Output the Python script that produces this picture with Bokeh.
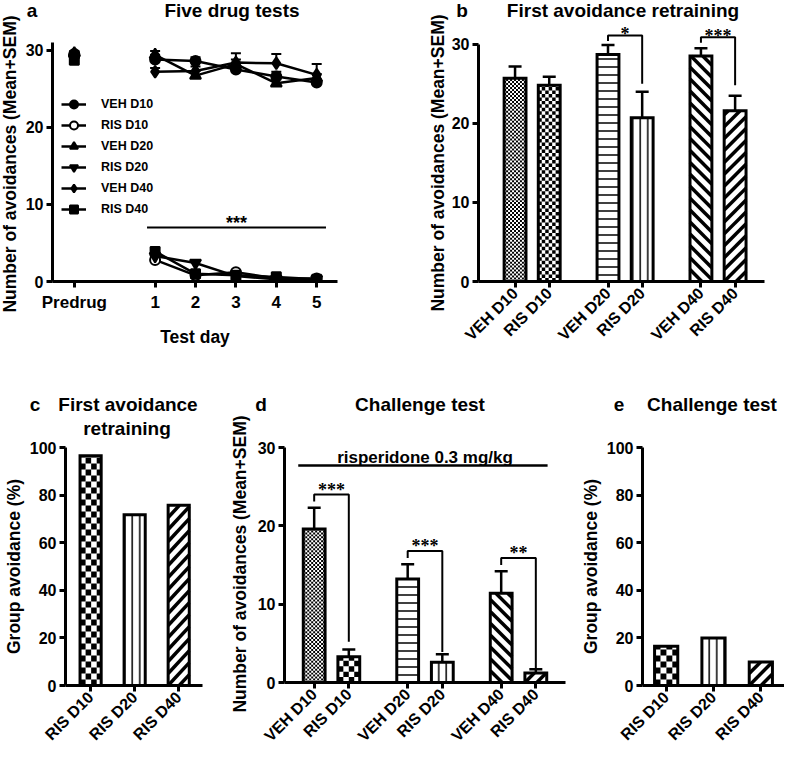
import math
from bokeh.plotting import figure
from bokeh.models import (Range1d, FixedTicker, ColumnDataSource, Whisker, TeeHead,
                          Label, LabelSet, Legend, LegendItem, Div)
from bokeh.layouts import row, column
from bokeh.embed import file_html
from bokeh.resources import INLINE

FONT = "Liberation Sans"

# ---------------- data ----------------
# panel a: five drug tests (Predrug + test days 1-5)
day_labels = ["Predrug", "1", "2", "3", "4", "5"]
series_names = ["VEH D10", "RIS D10", "VEH D20", "RIS D20", "VEH D40", "RIS D40"]
veh_d10 = [29.5, 28.8, 28.6, 27.5, 26.6, 25.8]
veh_d10_sem = [0.3, 0.6, 0.5, 0.5, 0.6, 0.4]
ris_d10 = [29.3, 2.8, 0.8, 1.2, 0.4, 0.4]
ris_d10_sem = [0.3, 0.4, 0.3, 0.2, 0.2, 0.2]
veh_d20 = [29.6, 29.4, 26.7, 28.2, 25.7, 26.4]
veh_d20_sem = [0.3, 0.5, 0.6, 0.6, 0.5, 0.5]
ris_d20 = [29.0, 3.3, 2.4, 0.7, 0.3, 0.3]
ris_d20_sem = [0.3, 0.5, 0.4, 0.3, 0.2, 0.2]
veh_d40 = [29.2, 27.2, 27.3, 28.4, 28.3, 26.8]
veh_d40_sem = [0.3, 0.5, 0.6, 1.2, 1.2, 1.4]
ris_d40 = [28.7, 3.9, 1.0, 0.8, 0.6, 0.3]
ris_d40_sem = [0.3, 0.5, 0.4, 0.3, 0.3, 0.2]
a_sig_label = "***"
a_sig_level = 7.0

# panel b: first avoidance retraining
b_groups = ["VEH D10", "RIS D10", "VEH D20", "RIS D20", "VEH D40", "RIS D40"]
b_mean = [25.7, 24.8, 28.7, 20.7, 28.5, 21.6]
b_sem = [1.5, 1.1, 1.2, 3.3, 1.0, 1.9]
b_brackets = [(2, 3, 31.1, 30.4, 25.0, "*"), (4, 5, 30.9, 30.2, 24.8, "***")]

# panel c: first avoidance retraining, group avoidance (%)
c_groups = ["RIS D10", "RIS D20", "RIS D40"]
c_pct = [96.5, 71.7, 75.7]

# panel d: challenge test
d_groups = ["VEH D10", "RIS D10", "VEH D20", "RIS D20", "VEH D40", "RIS D40"]
d_mean = [19.6, 3.3, 13.2, 2.6, 11.4, 1.2]
d_sem = [2.7, 0.9, 1.9, 1.0, 2.8, 0.5]
d_brackets = [(0, 1, 24.0, 23.1, 5.2, "***"), (2, 3, 16.8, 15.9, 3.9, "***"),
              (4, 5, 15.9, 15.0, 1.8, "**")]
d_drug_label = "risperidone 0.3 mg/kg"
d_drug_level = 27.7

# panel e: challenge test, group avoidance (%)
e_groups = ["RIS D10", "RIS D20", "RIS D40"]
e_pct = [16.5, 20.0, 9.9]

# texts
count_label = "Number of avoidances (Mean+SEM)"
pct_label = "Group avoidance (%)"
title_a = [("a", 10, 11), ("Five drug tests", 210, 11)]
title_b = [("b", 14, 11), ("First avoidance retraining", 175, 11)]
title_c = [("c", 35, 53), ("First avoidance", 128, 53), ("retraining", 127, 77)]
title_d = [("d", 7, 53), ("Challenge test", 166, 53)]
title_e = [("e", 42, 53), ("Challenge test", 135, 53)]


def make_fig(width, height, g, left, right, top, bottom):
    p = figure(width=width, height=height, x_range=Range1d(*g["x"]), y_range=Range1d(*g["y"]),
               output_backend="svg", toolbar_location=None,
               min_border_left=left, min_border_right=right,
               min_border_top=top, min_border_bottom=bottom)
    p.background_fill_color = "white"
    p.border_fill_color = "white"
    p.outline_line_color = None
    p.xgrid.visible = False
    p.ygrid.visible = False
    for ax in p.axis:
        ax.axis_line_width = 3
        ax.axis_line_color = "black"
        ax.major_tick_line_width = 3
        ax.major_tick_line_color = "black"
        ax.major_tick_out = 6
        ax.major_tick_in = 0
        ax.minor_tick_out = 0
        ax.minor_tick_in = 0
        ax.major_label_text_font = FONT
        ax.major_label_text_font_style = "bold"
        ax.major_label_text_font_size = "16px"
        ax.major_label_text_color = "black"
        ax.axis_label_text_font = FONT
        ax.axis_label_text_font_style = "bold"
        ax.axis_label_text_font_size = "17.5px"
        ax.axis_label_text_color = "black"
        ax.major_label_standoff = 3
        ax.axis_label_standoff = 3
    return p


def scales(g):
    sx = (g["R"] - g["L"]) / (g["x"][1] - g["x"][0])
    sy = (g["B"] - g["T"]) / (g["y"][1] - g["y"][0])
    return sx, sy


def checker_quads(xl, xr, top, cell, sx, sy):
    l, r, b, t = [], [], [], []
    wpx, hpx = (xr - xl) * sx, top * sy
    ncol, nrow = int(math.ceil(wpx / cell)), int(math.ceil(hpx / cell))
    for i in range(ncol):
        for j in range(nrow):
            if (i + j) % 2 == 0:
                l.append(xl + i * cell / sx)
                r.append(min(xl + (i + 1) * cell / sx, xr))
                b.append(j * cell / sy)
                t.append(min((j + 1) * cell / sy, top))
    return l, r, b, t


def diag_segments(xl, xr, top, spacing, sx, sy, rising):
    wpx, hpx = (xr - xl) * sx, top * sy
    x0s, y0s, x1s, y1s = [], [], [], []
    kmin = int(math.floor(-(wpx + hpx) / spacing)) - 1
    kmax = int(math.ceil((wpx + hpx) / spacing)) + 1
    for k in range(kmin, kmax + 1):
        c = k * spacing
        if rising:      # y = x + c
            xa, xb = max(0.0, -c), min(wpx, hpx - c)
            if xa >= xb:
                continue
            ya, yb = xa + c, xb + c
        else:           # y = -x + c
            xa, xb = max(0.0, c - hpx), min(wpx, c)
            if xa >= xb:
                continue
            ya, yb = -xa + c, -xb + c
        x0s.append(xl + xa / sx); x1s.append(xl + xb / sx)
        y0s.append(ya / sy); y1s.append(yb / sy)
    return x0s, y0s, x1s, y1s


def bars(p, g, positions, names, values, sems, width, fine_cell, coarse_cell):
    sx, sy = scales(g)
    for xpos, name, v in zip(positions, names, values):
        src = ColumnDataSource(dict(x=[xpos], top=[v]))
        xl, xr = xpos - width / 2, xpos + width / 2
        kw = {}
        if name == "VEH D20":
            kw = dict(hatch_pattern="-", hatch_scale=8, hatch_weight=1.5, hatch_color="black")
        elif name == "RIS D20":
            kw = dict(hatch_pattern="|", hatch_scale=7.5, hatch_weight=1.5, hatch_color="black")
        p.vbar(x="x", top="top", bottom=0, width=width, source=src,
               fill_color="white", line_color=None, **kw)
        if name in ("VEH D10", "RIS D10"):
            cell = fine_cell if name == "VEH D10" else coarse_cell
            l, r, b, t = checker_quads(xl, xr, v, cell, sx, sy)
            p.quad(left=l, right=r, bottom=b, top=t, fill_color="black", line_color=None)
        elif name in ("VEH D40", "RIS D40"):
            x0, y0, x1, y1 = diag_segments(xl, xr, v, 12, sx, sy, rising=(name == "RIS D40"))
            p.segment(x0=x0, y0=y0, x1=x1, y1=y1, line_color="black", line_width=3.5)
        p.vbar(x="x", top="top", bottom=0, width=width, source=src,
               fill_color=None, line_color="black", line_width=3, line_join="miter")
    if sems is not None:
        src = ColumnDataSource(dict(x=positions, lo=values,
                                    hi=[v + s for v, s in zip(values, sems)]))
        p.add_layout(Whisker(source=src, base="x", lower="lo", upper="hi",
                             dimension="height", line_width=2.5, line_color="black",
                             upper_head=TeeHead(size=13, line_width=2.5, line_color="black"),
                             lower_head=None, level="underlay"))


def brackets(p, g, positions, specs, drop_px, size="18px"):
    _, sy = scales(g)
    xs, ys, tx, ty, tt = [], [], [], [], []
    for i, j, top, lft, rgt, lab in specs:
        xs.append([positions[i], positions[i], positions[j], positions[j]])
        ys.append([lft, top, top, rgt])
        tx.append((positions[i] + positions[j]) / 2)
        ty.append(top - drop_px / sy)
        tt.append(lab)
    p.multi_line(xs=xs, ys=ys, line_color="black", line_width=2)
    src = ColumnDataSource(dict(x=tx, y=ty, t=tt))
    p.add_layout(LabelSet(x="x", y="y", text="t", source=src, text_font=FONT,
                          text_font_style="bold", text_font_size=size,
                          text_align="center", text_baseline="alphabetic",
                          text_color="black"))


def group_positions(n_groups, per_group, gap):
    return [g * gap + k for g in range(n_groups) for k in range(per_group)]


def text_box(items, width, height, size="19px", rotate=False):
    spans = []
    rot = " rotate(-90deg)" if rotate else ""
    for text, px, py in items:
        spans.append(
            f'<span style="position:absolute;left:{px}px;top:{py}px;'
            f'transform:translate(-50%,-50%){rot};white-space:nowrap;line-height:1.15;">'
            f'{text}</span>')
    html = (f'<div style="position:relative;width:{width}px;height:{height}px;'
            f"font-family:'{FONT}';font-weight:bold;font-size:{size};color:black;\">"
            + "".join(spans) + "</div>")
    return Div(text=html, width=width, height=height, margin=0)


# ---------------- panel a ----------------
ga = dict(L=58, R=345, T=50, B=289, x=(-1.54, 5.515), y=(0, 31))
pa = make_fig(370, 330, ga, 28, 55, 20, 71)
day_x = [-1] + list(range(1, len(day_labels)))
pa.xaxis.ticker = FixedTicker(ticks=day_x)
pa.xaxis.major_label_overrides = {float(x): l for x, l in zip(day_x, day_labels)}
pa.xaxis.major_label_text_font_size = "17px"
pa.yaxis.ticker = FixedTicker(ticks=[0, 10, 20, 30])
pa.xaxis.axis_label = "Test day"
pa.xaxis.axis_label_standoff = 12
pa.xaxis.major_label_standoff = 5

series = [veh_d10, ris_d10, veh_d20, ris_d20, veh_d40, ris_d40]
sems = [veh_d10_sem, ris_d10_sem, veh_d20_sem, ris_d20_sem, veh_d40_sem, ris_d40_sem]
markers = [("circle", "black", 10), ("circle", "white", 10), ("triangle", "black", 11),
           ("inverted_triangle", "black", 11), ("diamond", "black", 12), ("square", "black", 9)]
items = []
for name, vals, sem, (mk, fc, sz) in zip(series_names, series, sems, markers):
    src = ColumnDataSource(dict(x=day_x, y=vals, hi=[v + s for v, s in zip(vals, sem)]))
    lsrc = ColumnDataSource(dict(x=day_x[1:], y=vals[1:]))
    pa.add_layout(Whisker(source=src, base="x", lower="y", upper="hi", dimension="height",
                          line_width=2, line_color="black",
                          upper_head=TeeHead(size=10, line_width=2, line_color="black"),
                          lower_head=None, level="underlay"))
    lr = pa.line("x", "y", source=lsrc, line_color="black", line_width=2.5)
    sr = pa.scatter("x", "y", source=src, marker=mk, size=sz, fill_color=fc,
                    line_color="black", line_width=2)
    items.append(LegendItem(label=name, renderers=[lr, sr]))

legend = Legend(items=items, location=(9, 62), border_line_color=None,
                background_fill_alpha=0, padding=0, margin=0, spacing=1,
                glyph_width=25, glyph_height=20, label_height=20, label_standoff=15,
                label_text_font=FONT, label_text_font_style="bold",
                label_text_font_size="12.5px", label_text_color="black")
pa.add_layout(legend)

sig_x = [day_x[1] - 0.2, day_x[-1] + 0.23]
pa.line(sig_x, [a_sig_level, a_sig_level], line_color="black", line_width=2)
pa.add_layout(Label(x=sum(sig_x) / 2, y=a_sig_level + 0.6, text=a_sig_label, text_font=FONT,
                    text_font_style="bold", text_font_size="18px", text_align="center",
                    text_baseline="alphabetic", text_color="black"))

# ---------------- panel b ----------------
gb = dict(L=483, R=772, T=30, B=291, x=(-1.07, 7.30), y=(0, 32.75))
pb = make_fig(336, 330, gb, 27, 20, 0, 69)
b_pos = group_positions(3, 2, 2.72)
bars(pb, gb, b_pos, b_groups, b_mean, b_sem, 0.64, 2, 3.5)
brackets(pb, gb, b_pos, b_brackets, 4.5)
pb.xaxis.ticker = FixedTicker(ticks=b_pos)
pb.xaxis.major_label_overrides = {float(x): l for x, l in zip(b_pos, b_groups)}
pb.xaxis.major_label_orientation = math.pi / 4
pb.yaxis.ticker = FixedTicker(ticks=[0, 10, 20, 30])
pb.yaxis.bounds = (0, 30)

# ---------------- panel c ----------------
gc = dict(L=62, R=210, T=455, B=693, x=(-0.57, 2.54), y=(0, 100))
pc = make_fig(230, 315, gc, 54, 28, 9, 68)
c_pos = list(range(len(c_groups)))
bars(pc, gc, c_pos, c_groups, c_pct, None, 0.48, 2, 6)
pc.xaxis.ticker = FixedTicker(ticks=c_pos)
pc.xaxis.major_label_overrides = {float(x): l for x, l in zip(c_pos, c_groups)}
pc.xaxis.major_label_orientation = math.pi / 4
pc.yaxis.ticker = FixedTicker(ticks=[0, 20, 40, 60, 80, 100])
pc.yaxis.axis_label = pct_label

# ---------------- panel d ----------------
gd = dict(L=289, R=573, T=455, B=693, x=(-0.857, 7.257), y=(0, 30))
pd_ = make_fig(323, 315, gd, 27, 12, 9, 68)
d_pos = group_positions(3, 2, 2.7)
bars(pd_, gd, d_pos, d_groups, d_mean, d_sem, 0.63, 2, 5.5)
brackets(pd_, gd, d_pos, d_brackets, 1.5)
drug_x = [d_pos[0] - 0.46, d_pos[-1] + 0.34]
pd_.line(drug_x, [d_drug_level, d_drug_level], line_color="black", line_width=2.5)
pd_.add_layout(Label(x=sum(d_pos) / len(d_pos), y=d_drug_level + 1.0, text=d_drug_label,
                     text_font=FONT, text_font_style="bold", text_font_size="17px",
                     text_align="center", text_baseline="alphabetic", text_color="black"))
pd_.xaxis.ticker = FixedTicker(ticks=d_pos)
pd_.xaxis.major_label_overrides = {float(x): l for x, l in zip(d_pos, d_groups)}
pd_.xaxis.major_label_orientation = math.pi / 4
pd_.yaxis.ticker = FixedTicker(ticks=[0, 10, 20, 30])

# ---------------- panel e ----------------
ge = dict(L=648, R=792, T=455, B=693, x=(-0.5, 2.5), y=(0, 100))
pe = make_fig(207, 315, ge, 63, 0, 9, 68)
e_pos = list(range(len(e_groups)))
bars(pe, ge, e_pos, e_groups, e_pct, None, 0.49, 2, 6)
pe.xaxis.ticker = FixedTicker(ticks=e_pos)
pe.xaxis.major_label_overrides = {float(x): l for x, l in zip(e_pos, e_groups)}
pe.xaxis.major_label_orientation = math.pi / 4
pe.yaxis.ticker = FixedTicker(ticks=[0, 20, 40, 60, 80, 100])
pe.yaxis.axis_label = pct_label

# ---------------- layout ----------------
ylab_a = text_box([(count_label, 10, 164)], 22, 352, size="17.5px", rotate=True)
ylab_b = text_box([(count_label, 46, 163)], 56, 352, size="17.5px", rotate=True)
ylab_d = text_box([(count_label, 10, 212)], 24, 401, size="17.5px", rotate=True)

top_row = row(ylab_a, column(text_box(title_a, 370, 22), pa),
              ylab_b, column(text_box(title_b, 336, 22), pb))
bottom_row = row(column(text_box(title_c, 230, 86), pc), ylab_d,
                 column(text_box(title_d, 323, 86), pd_),
                 column(text_box(title_e, 207, 86), pe))
layout = column(top_row, bottom_row)
open("out.html", "w").write(file_html(layout, INLINE))
